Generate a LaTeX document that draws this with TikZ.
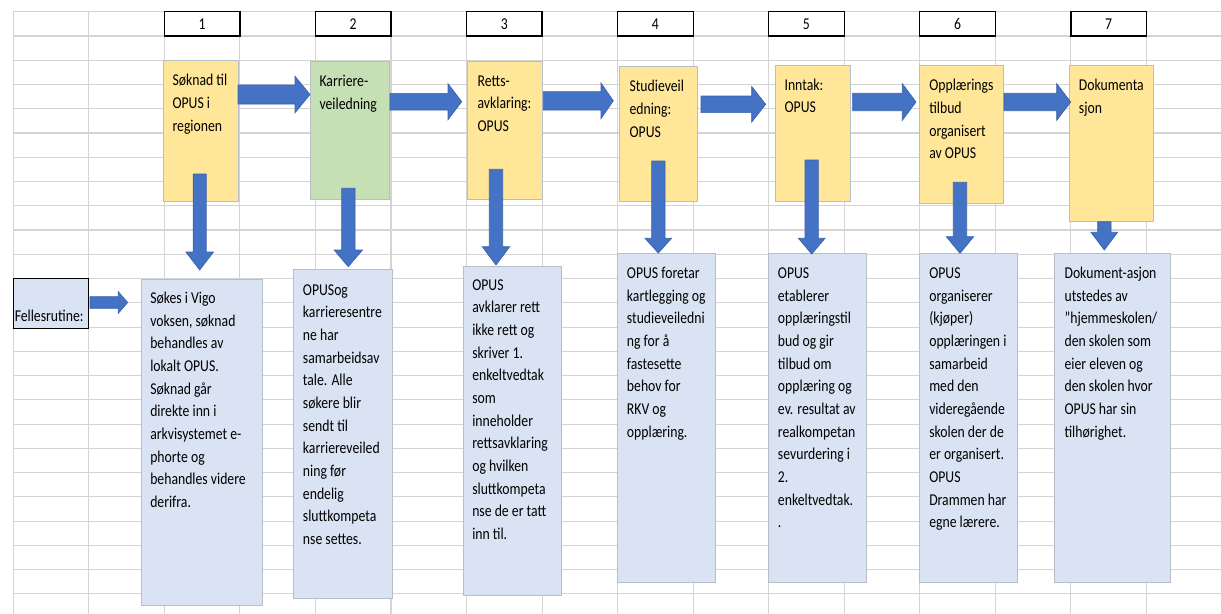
\documentclass[tikz,border=0pt]{standalone}
\usepackage{fontspec}
\setmainfont{Carlito}[FakeStretch=0.83]
\definecolor{gridgray}{HTML}{D4D4D4}
\definecolor{stepyellow}{HTML}{FFE699}
\definecolor{stepgreen}{HTML}{C5E0B4}
\definecolor{infoblue}{HTML}{DAE3F3}
\definecolor{arrowblue}{HTML}{4472C4}
\definecolor{arrowedge}{HTML}{3A62AD}
\definecolor{boxedge}{HTML}{B8BEC8}

\begin{document}
\begin{tikzpicture}[x=0.75pt,y=0.75pt,yscale=-1,xscale=1,
  gridline/.style={draw=gridgray,line width=0.8pt},
  numbox/.style={draw=black,fill=white,line width=1pt},
  stepbox/.style={draw=boxedge,line width=0.6pt},
  blockarrow/.style={draw=arrowedge,fill=arrowblue,line width=0.5pt},
  txt/.style={align=left,anchor=north west,inner sep=0pt,font=\fontsize{12.4}{17}\selectfont}]
\useasboundingbox[fill=white] (0,0) rectangle (1221,614);

%Grid: horizontal lines
\draw [gridline] (13.3,11.7) -- (1221,11.7) ;
\draw [gridline] (13.3,36) -- (1221,36) ;
\draw [gridline] (13.3,60.2) -- (1221,60.2) ;
\draw [gridline] (13.3,84.5) -- (1221,84.5) ;
\draw [gridline] (13.3,108.7) -- (1221,108.7) ;
\draw [gridline] (13.3,133) -- (1221,133) ;
\draw [gridline] (13.3,157.3) -- (1221,157.3) ;
\draw [gridline] (13.3,181.5) -- (1221,181.5) ;
\draw [gridline] (13.3,205.8) -- (1221,205.8) ;
\draw [gridline] (13.3,230) -- (1221,230) ;
\draw [gridline] (13.3,254.3) -- (1221,254.3) ;
\draw [gridline] (13.3,278.6) -- (1221,278.6) ;
\draw [gridline] (13.3,302.8) -- (1221,302.8) ;
\draw [gridline] (13.3,327.1) -- (1221,327.1) ;
\draw [gridline] (13.3,351.3) -- (1221,351.3) ;
\draw [gridline] (13.3,375.6) -- (1221,375.6) ;
\draw [gridline] (13.3,399.9) -- (1221,399.9) ;
\draw [gridline] (13.3,424.1) -- (1221,424.1) ;
\draw [gridline] (13.3,448.4) -- (1221,448.4) ;
\draw [gridline] (13.3,472.6) -- (1221,472.6) ;
\draw [gridline] (13.3,496.9) -- (1221,496.9) ;
\draw [gridline] (13.3,521.2) -- (1221,521.2) ;
\draw [gridline] (13.3,545.4) -- (1221,545.4) ;
\draw [gridline] (13.3,569.7) -- (1221,569.7) ;
\draw [gridline] (13.3,593.9) -- (1221,593.9) ;

%Grid: vertical lines
\draw [gridline] (13.3,11.7) -- (13.3,614) ;
\draw [gridline] (88.8,11.7) -- (88.8,614) ;
\draw [gridline] (164.4,11.7) -- (164.4,614) ;
\draw [gridline] (239.9,11.7) -- (239.9,614) ;
\draw [gridline] (315.5,11.7) -- (315.5,614) ;
\draw [gridline] (391,11.7) -- (391,614) ;
\draw [gridline] (466.5,11.7) -- (466.5,614) ;
\draw [gridline] (542.1,11.7) -- (542.1,614) ;
\draw [gridline] (617.6,11.7) -- (617.6,614) ;
\draw [gridline] (693.2,11.7) -- (693.2,614) ;
\draw [gridline] (768.7,11.7) -- (768.7,614) ;
\draw [gridline] (844.2,11.7) -- (844.2,614) ;
\draw [gridline] (919.8,11.7) -- (919.8,614) ;
\draw [gridline] (995.3,11.7) -- (995.3,614) ;
\draw [gridline] (1070.9,11.7) -- (1070.9,614) ;
\draw [gridline] (1146.4,11.7) -- (1146.4,614) ;

%Shape: Rectangle (step numbers)
\draw [numbox] (164.4,11.7) rectangle (239.9,36) ;
\draw [numbox] (315.5,11.7) rectangle (391,36) ;
\draw [numbox] (466.5,11.7) rectangle (542.1,36) ;
\draw [numbox] (617.6,11.7) rectangle (693.2,36) ;
\draw [numbox] (768.7,11.7) rectangle (844.2,36) ;
\draw [numbox] (919.8,11.7) rectangle (995.3,36) ;
\draw [numbox] (1070.9,11.7) rectangle (1146.4,36) ;

%Shape: Rectangle (steps)
\draw [stepbox,fill=stepyellow] (163.3,60.7) rectangle (238.7,201.7) ;
\draw [stepbox,fill=stepgreen] (310,61.7) rectangle (389.7,199.3) ;
\draw [stepbox,fill=stepyellow] (467.3,61.7) rectangle (542.7,199.3) ;
\draw [stepbox,fill=stepyellow] (619.3,66.7) rectangle (697.7,201.7) ;
\draw [stepbox,fill=stepyellow] (775.7,65) rectangle (850.3,201.7) ;
\draw [stepbox,fill=stepyellow] (919.3,65.7) rectangle (1003.3,203.3) ;
\draw [stepbox,fill=stepyellow] (1069.3,65.7) rectangle (1153.3,221.7) ;

%Shape: Rectangle (descriptions)
\draw [numbox,fill=infoblue] (13.3,278.3) rectangle (88.8,328.3) ;
\draw [stepbox,fill=infoblue] (141.7,279) rectangle (262.3,605) ;
\draw [stepbox,fill=infoblue] (293.3,269.3) rectangle (392.3,598.3) ;
\draw [stepbox,fill=infoblue] (463.3,266) rectangle (561.3,595) ;
\draw [stepbox,fill=infoblue] (617.3,253.3) rectangle (715.3,582.3) ;
\draw [stepbox,fill=infoblue] (768.3,253.3) rectangle (866.7,582.3) ;
\draw [stepbox,fill=infoblue] (919.3,253.3) rectangle (1017.7,582.3) ;
\draw [stepbox,fill=infoblue] (1054.3,253.3) rectangle (1170.3,582.3) ;

%Right Arrow
\draw [blockarrow] (238,85) -- (295,85) -- (295,76.2) -- (310,94.5) -- (295,112.8) -- (295,104) -- (238,104) -- cycle ;
%Right Arrow
\draw [blockarrow] (390,93.4) -- (448,93.4) -- (448,83.7) -- (461.7,101.7) -- (448,119.7) -- (448,110) -- (390,110) -- cycle ;
%Right Arrow
\draw [blockarrow] (543.3,91.6) -- (601,91.6) -- (601,83) -- (613.3,100.8) -- (601,118.6) -- (601,110) -- (543.3,110) -- cycle ;
%Right Arrow
\draw [blockarrow] (701,96) -- (751.7,96) -- (751.7,86.5) -- (765.7,104.3) -- (751.7,122.1) -- (751.7,112.6) -- (701,112.6) -- cycle ;
%Right Arrow
\draw [blockarrow] (852.7,93.3) -- (902.3,93.3) -- (902.3,83.7) -- (916,102) -- (902.3,120.3) -- (902.3,110.7) -- (852.7,110.7) -- cycle ;
%Right Arrow
\draw [blockarrow] (1004,93.3) -- (1056.7,93.3) -- (1056.7,83.7) -- (1070.7,102) -- (1056.7,120.3) -- (1056.7,110.7) -- (1004,110.7) -- cycle ;
%Right Arrow
\draw [blockarrow] (90,296.7) -- (118.3,296.7) -- (118.3,291.7) -- (127.7,302.5) -- (118.3,313.3) -- (118.3,308.3) -- (90,308.3) -- cycle ;

%Down Arrow
\draw [blockarrow] (193.2,174) -- (206.2,174) -- (206.2,252) -- (213.5,252) -- (199.7,270) -- (185.9,252) -- (193.2,252) -- cycle ;
%Down Arrow
\draw [blockarrow] (341.6,188.3) -- (355,188.3) -- (355,250) -- (362.5,250) -- (348.3,266.7) -- (334.1,250) -- (341.6,250) -- cycle ;
%Down Arrow
\draw [blockarrow] (489.3,169.3) -- (502.7,169.3) -- (502.7,246.7) -- (509.7,246.7) -- (496,265) -- (482.3,246.7) -- (489.3,246.7) -- cycle ;
%Down Arrow
\draw [blockarrow] (651.6,161) -- (665,161) -- (665,238.3) -- (671.6,238.3) -- (658.3,253) -- (645,238.3) -- (651.6,238.3) -- cycle ;
%Down Arrow
\draw [blockarrow] (805,160) -- (818.4,160) -- (818.4,238.3) -- (825,238.3) -- (811.7,254) -- (798.4,238.3) -- (805,238.3) -- cycle ;
%Down Arrow
\draw [blockarrow] (953.3,182.3) -- (966.7,182.3) -- (966.7,236.7) -- (973.7,236.7) -- (960,253.3) -- (946.3,236.7) -- (953.3,236.7) -- cycle ;
%Down Arrow
\draw [blockarrow] (1097.6,221.7) -- (1111,221.7) -- (1111,232.3) -- (1117.6,232.3) -- (1104.3,250) -- (1091,232.3) -- (1097.6,232.3) -- cycle ;

% Text Node
\draw (202.1,24) node (n1) [font=\fontsize{12.4}{17}\selectfont] {1};
\draw (353.2,24) node (n2) [font=\fontsize{12.4}{17}\selectfont] {2};
\draw (504.3,24) node (n3) [font=\fontsize{12.4}{17}\selectfont] {3};
\draw (655.4,24) node (n4) [font=\fontsize{12.4}{17}\selectfont] {4};
\draw (806.4,24) node (n5) [font=\fontsize{12.4}{17}\selectfont] {5};
\draw (957.5,24) node (n6) [font=\fontsize{12.4}{17}\selectfont] {6};
\draw (1108.6,24) node (n7) [font=\fontsize{12.4}{17}\selectfont] {7};

% Text Node
\draw (172.3,69.6) node (s1) [txt] {\strut Søknad til\\OPUS i\\regionen};
% Text Node
\draw (319.3,70.8) node (s2) [txt] {\strut Karriere-\\veiledning};
% Text Node
\draw (477.3,70.1) node (s3) [txt] {\strut Retts-\\avklaring:\\OPUS};
% Text Node
\draw (629.3,75.8) node (s4) [txt] {\strut Studieveil\\edning:\\OPUS};
% Text Node
\draw (784.3,74.1) node (s5) [txt] {\strut Inntak:\\OPUS};
% Text Node
\draw (929,74.8) node (s6) [txt] {\strut Opplærings\\tilbud\\organisert\\av OPUS};
% Text Node
\draw (1078.7,74.8) node (s7) [txt] {\strut Dokumenta\\sjon};

% Text Node
\draw (14.5,305.6) node (fr) [txt] {\strut Fellesrutine:};
% Text Node
\draw (150,287.4) node (d1) [txt] {\strut Søkes i Vigo\\voksen, søknad\\behandles av\\lokalt OPUS.\\Søknad går\\direkte inn i\\arkvisystemet e-\\phorte og\\behandles videre\\derifra.};
% Text Node
\draw (302.7,279.1) node (d2) [txt] {\strut OPUSog\\karrieresentre\\ne har\\samarbeidsav\\tale. Alle\\søkere blir\\sendt til\\karriereveiled\\ning før\\endelig\\sluttkompeta\\nse settes.};
% Text Node
\draw (472,274.1) node (d3) [txt] {\strut OPUS\\avklarer rett\\ikke rett og\\skriver 1.\\enkeltvedtak\\som\\inneholder\\rettsavklaring\\og hvilken\\sluttkompeta\\nse de er tatt\\inn til.};
% Text Node
\draw (626.7,262.4) node (d4) [txt] {\strut OPUS foretar\\kartlegging og\\studieveiledni\\ng for å\\fastesette\\behov for\\RKV og\\opplæring.};
% Text Node
\draw (777.7,262.4) node (d5) [txt] {\strut OPUS\\etablerer\\opplæringstil\\bud og gir\\tilbud om\\opplæring og\\ev. resultat av\\realkompetan\\sevurdering i\\2.\\enkeltvedtak.\\.};
% Text Node
\draw (929,262.4) node (d6) [txt] {\strut OPUS\\organiserer\\(kjøper)\\opplæringen i\\samarbeid\\med den\\videregående\\skolen der de\\er organisert.\\OPUS\\Drammen har\\egne lærere.};
% Text Node
\draw (1064.3,262.4) node (d7) [txt] {\strut Dokument-asjon\\utstedes av\\"hjemmeskolen/\\den skolen som\\eier eleven og\\den skolen hvor\\OPUS har sin\\tilhørighet.};

\end{tikzpicture}
\end{document}
